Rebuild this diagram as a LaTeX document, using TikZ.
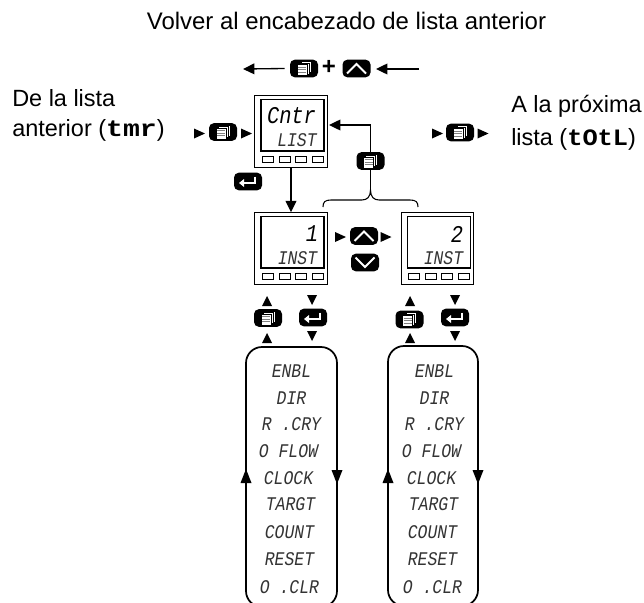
\documentclass[tikz,border=0pt]{standalone}
\usepackage{fontspec}
\setmainfont{Liberation Sans}
\newfontfamily\lcdfont[FakeStretch=0.85]{Liberation Mono Italic}
\newfontfamily\lcdbold[FakeStretch=1.2]{Liberation Mono Bold}
\newfontfamily\lcdboldn[FakeStretch=1.08]{Liberation Mono Bold}
\usetikzlibrary{arrows.meta}
\newcommand\triR[2]{\fill (#1-5.5,#2-5) -- (#1+5.5,#2) -- (#1-5.5,#2+5) -- cycle;}
\newcommand\triU[2]{\fill (#1-5,#2+5) -- (#1,#2-5) -- (#1+5,#2+5) -- cycle;}
\newcommand\triD[2]{\fill (#1-5,#2-5) -- (#1,#2+5) -- (#1+5,#2-5) -- cycle;}
\newcommand\tallU[2]{\fill (#1-5.5,#2+7) -- (#1,#2-7) -- (#1+5.5,#2+7) -- cycle;}
\newcommand\tallD[2]{\fill (#1-5.5,#2-7) -- (#1,#2+7) -- (#1+5.5,#2-7) -- cycle;}
\tikzset{
  x=0.75pt,y=-0.75pt,
  wire/.style={line width=1pt,draw=black},
  head/.style={wire,-{Triangle[length=8.5pt,width=8pt]}},
  loopbox/.style={draw=black,line width=1.3pt,rounded corners=12pt},
  btn/.style={rectangle,fill=black,rounded corners=3.6pt,minimum width=21pt,minimum height=13.2pt,inner sep=0pt},
  pagebtn/.style={btn,path picture={
    \begin{scope}[sharp corners,shift={(path picture bounding box.center)},line width=0.4pt]
      \filldraw[fill=white,draw=black] (-3,-7) rectangle (7,4);
      \filldraw[fill=white,draw=black] (-5,-5.5) rectangle (5,5.5);
      \filldraw[fill=white,draw=black] (-7,-4) rectangle (3,7);
      \foreach \yy in {-1.5,1,3.5}{\draw[gray,line width=0.6pt] (-6,\yy) -- (2,\yy);}
    \end{scope}}},
  upbtn/.style={btn,path picture={
    \draw[sharp corners,white,line width=1.5pt,shift={(path picture bounding box.center)}] (-9.5,5) -- (0,-4.5) -- (9.5,5);}},
  downbtn/.style={btn,path picture={
    \draw[sharp corners,white,line width=1.5pt,shift={(path picture bounding box.center)}] (-9.5,-5) -- (0,4.5) -- (9.5,-5);}},
  enterbtn/.style={btn,path picture={
    \begin{scope}[sharp corners,shift={(path picture bounding box.center)}]
      \draw[white,line width=1.4pt] (7,-5) -- (7,1.5) -- (-5,1.5);
      \fill[white] (-9,1.5) -- (-4,-2.5) -- (-4,5.5) -- cycle;
    \end{scope}}},
  devbody/.style={draw=black,line width=0.8pt,minimum width=54.5pt,minimum height=53.5pt,inner sep=0pt},
  screen/.style={draw=black,line width=1pt},
  softkey/.style={draw=black,line width=0.55pt},
  lcd/.style={inner sep=0pt,text=black!80,font=\lcdfont\fontsize{14.5pt}{16pt}\selectfont},
  lcdbig/.style={inner sep=0pt,font=\lcdfont\fontsize{18pt}{20pt}\selectfont},
  label/.style={inner sep=0pt,anchor=base west,font=\fontsize{17.6pt}{20pt}\selectfont},
}
\newcommand\device[3]{%
  \node[devbody] (#1) at (#2,#3+35.5) {};
  \draw[screen] (#2-30,#3+3.5) rectangle (#2+33,#3+55);
  \foreach \kk in {-29,-12,4,21}{\draw[softkey] (#2+\kk,#3+60) rectangle (#2+\kk+11,#3+66.5);}
}
\begin{document}
\begin{tikzpicture}
\useasboundingbox (0,0) rectangle (644,603);
\clip (0,0) rectangle (644,603);
\fill[white] (0,0) rectangle (644,603);

% texts
\node[inner sep=0pt,anchor=base,font=\fontsize{17.95pt}{20pt}\selectfont] (title) at (346.5,29) {Volver al encabezado de lista anterior};
\node[label] (from1) at (12,106) {De la lista};
\node[label] (from2) at (12,137) {anterior ({\lcdbold tmr})};
\node[label] (to1) at (511,112) {A la próxima};
\node[label] (to2) at (511,145) {lista ({\lcdboldn tOtL})};

% top row
\node[pagebtn] (topPage) at (304,68.5) {};
\node[inner sep=0pt,font=\bfseries\fontsize{18pt}{18pt}\selectfont] (plus) at (329,67) {+};
\node[upbtn] (topUp) at (356.5,68.5) {};
\coordinate (topA) at (243,69);
\coordinate (topB) at (376,69);
\coordinate (topC) at (419,69);
\draw[head] (topPage.west) ++(-5,0) -- (topA);
\draw[head] (topC) -- (topB);

% devices
\device{d0}{291}{96}
\device{d1}{291}{213}
\device{d2}{437.5}{213}
\node[lcdbig] (d0top) at (291.5,116) {Cntr};
\node[lcd] (d0low) at (297,140.5) {LIST};
\node[lcdbig] (d1top) at (312,234) {1};
\node[lcd] (d1low) at (297.5,258.5) {INST};
\node[lcdbig] (d2top) at (457,234) {2};
\node[lcd] (d2low) at (443.5,258.5) {INST};

% side buttons
\node[pagebtn] (leftPage) at (223,132) {};
\triR{199.5}{133.5}
\triR{246.5}{133.5}
\node[pagebtn] (rightPage) at (460,132.5) {};
\triR{437.5}{133.5}
\triR{483}{133.5}
\node[enterbtn] (enter0) at (248,181.5) {};

% feedback and brace
\node[pagebtn] (backPage) at (370.5,161) {};
\coordinate (fb) at (329,125);
\draw[head] (backPage.north) |- (fb);
\coordinate (braceTip) at (370.5,190);
\coordinate (braceL) at (323,207);
\coordinate (braceR) at (418,207);
\draw[wire] (backPage.south) -- (braceTip);
\draw[wire,line width=0.8pt] (braceL) .. controls (323,202) and (325,200) .. (331,200) -- (362,200) .. controls (367,200) and (370.5,197) .. (braceTip) .. controls (370.5,197) and (374,200) .. (379,200) -- (410,200) .. controls (416,200) and (418,202) .. (braceR);
\draw[head] (d0.south) -- (d1.north);

% up / down between devices
\node[upbtn] (midUp) at (364,236) {};
\node[downbtn] (midDown) at (365,262.5) {};
\triR{340.5}{237}
\triR{386}{237}

% lower buttons
\node[pagebtn] (p1) at (268,318) {};
\node[enterbtn] (e1) at (313,317.5) {};
\node[pagebtn] (p2) at (409.5,319.5) {};
\node[enterbtn] (e2) at (455,317.5) {};
\triU{267}{301}
\triU{267}{338}
\triD{312}{300}
\triD{312}{336}
\triU{410}{301}
\triU{410}{338}
\triD{455}{300}
\triD{455}{336}

% loops
\node[loopbox,minimum width=68.25pt,minimum height=195pt,inner sep=0pt] (loop1) at (291.5,477) {};
\node[loopbox,minimum width=67.5pt,minimum height=195pt,inner sep=0pt] (loop2) at (433,476) {};
\tallU{246}{476}
\tallD{337}{477}
\tallU{388}{476}
\tallD{478}{477}
\foreach \nm/\cx in {a/291.5,b/434.5}{
  \node[lcd] (l\nm1) at (\cx,371) {ENBL};
  \node[lcd] (l\nm2) at (\cx,398) {DIR};
  \node[lcd] (l\nm3) at (\cx,424) {R .CRY};
  \node[lcd] (l\nm4) at (\cx-3,451) {O FLOW};
  \node[lcd] (l\nm5) at (\cx-3,478) {CLOCK};
  \node[lcd] (l\nm6) at (\cx-1,504) {TARGT};
  \node[lcd] (l\nm7) at (\cx-2,532) {COUNT};
  \node[lcd] (l\nm8) at (\cx-2,559) {RESET};
  \node[lcd] (l\nm9) at (\cx-2,587) {O .CLR};
}
\end{tikzpicture}
\end{document}
